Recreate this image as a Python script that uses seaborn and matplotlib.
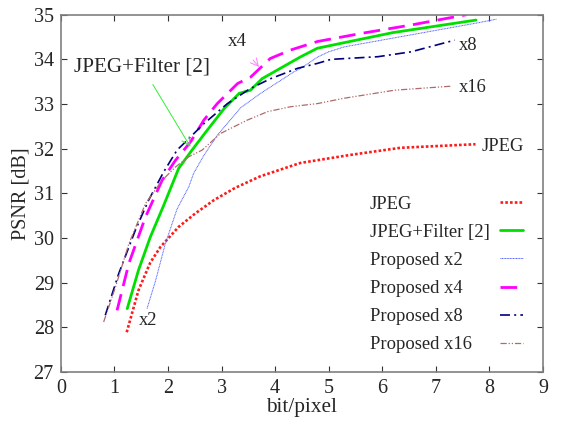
import numpy as np
import pandas as pd
import matplotlib
matplotlib.use("Agg")
import matplotlib.pyplot as plt
import seaborn as sns

# values (bit/pixel, PSNR dB)
jpeg_x = [1.23, 1.45, 1.67, 1.86, 2.20, 2.51, 2.86, 3.25, 3.72, 4.47, 5.40, 6.34, 7.74]
jpeg_y = [27.89, 28.83, 29.45, 29.80, 30.25, 30.55, 30.85, 31.12, 31.38, 31.68, 31.86, 32.02, 32.10]

filt_x = [1.24, 1.45, 1.67, 1.92, 2.20, 2.45, 2.73, 3.05, 3.33, 3.54, 3.76, 4.48, 4.79, 6.20, 7.75]
filt_y = [28.42, 29.28, 30.02, 30.73, 31.56, 31.97, 32.41, 32.90, 33.24, 33.31, 33.57, 34.06, 34.25, 34.60, 34.88]

x2_x = [1.61, 1.77, 1.95, 2.17, 2.39, 2.48, 2.67, 2.92, 3.36, 3.73, 4.35, 4.48, 4.79, 5.00, 5.29, 6.54, 7.79, 8.13]
x2_y = [28.42, 29.05, 29.87, 30.65, 31.15, 31.45, 31.85, 32.30, 32.92, 33.24, 33.72, 33.80, 34.05, 34.17, 34.28, 34.55, 34.82, 34.90]

x4_x = [1.05, 1.27, 1.58, 1.89, 2.14, 2.42, 2.67, 2.92, 3.30, 3.54, 3.91, 4.29, 4.79, 5.60, 6.54, 7.57]
x4_y = [28.38, 29.43, 30.47, 31.29, 31.74, 32.15, 32.64, 33.01, 33.46, 33.60, 34.02, 34.21, 34.40, 34.58, 34.77, 35.00]

x8_x = [0.83, 1.08, 1.39, 1.64, 1.92, 2.17, 2.30, 2.67, 3.11, 3.54, 3.92, 4.42, 4.79, 5.04, 5.92, 6.54, 7.35]
x8_y = [28.27, 29.20, 30.17, 30.85, 31.48, 31.97, 32.12, 32.56, 33.01, 33.35, 33.57, 33.80, 33.91, 34.00, 34.06, 34.17, 34.43]

x16_x = [0.80, 1.02, 1.27, 1.58, 1.89, 2.14, 2.39, 2.64, 2.98, 3.23, 3.48, 3.86, 4.29, 4.79, 5.29, 6.23, 7.29]
x16_y = [28.12, 28.90, 29.87, 30.77, 31.29, 31.59, 31.82, 31.97, 32.34, 32.49, 32.64, 32.83, 32.94, 33.01, 33.13, 33.31, 33.40]

sns.set_style("ticks")
plt.rcParams['font.family'] = ['Liberation Serif', 'DejaVu Serif']

fig, ax = plt.subplots(figsize=(5.63, 4.29), dpi=100)
fig.subplots_adjust(left=0.108, right=0.9645, top=0.9657, bottom=0.1329)

series = [
    ("JPEG", jpeg_x, jpeg_y, dict(color="#ff1a1a", lw=1.9, linestyle=(0, (1, 0.8)))),
    ("JPEG+Filter [2]", filt_x, filt_y, dict(color="#00e000", lw=2.0, linestyle="-")),
    ("Proposed x2", x2_x, x2_y, dict(color="#4b5cff", lw=0.7, linestyle=(0, (1, 0.6)))),
    ("Proposed x4", x4_x, x4_y, dict(color="#ff00ff", lw=2.0, linestyle=(0, (6, 3)))),
    ("Proposed x8", x8_x, x8_y, dict(color="#000080", lw=1.2, linestyle=(0, (6, 2.5, 1.2, 2.5)))),
    ("Proposed x16", x16_x, x16_y, dict(color="#b06a6a", lw=0.9, linestyle=(0, (5, 1.5, 1, 1.5, 1, 1.5)))),
]
for name, xs, ys, style in series:
    sns.lineplot(x=xs, y=ys, ax=ax, label=name, sort=False, estimator=None, **style)

ax.set_xlim(0, 9)
ax.set_ylim(27, 35)
ax.set_xticks(range(0, 10))
ax.set_yticks(range(27, 36))
ax.tick_params(direction="in", length=4, width=0.8, top=True, right=True,
               labelsize=14.5, pad=5, color="#333333")
for s in ax.spines.values():
    s.set_color("#808080")
    s.set_linewidth(1.2)
ax.set_xlabel("bit/pixel", fontsize=15.3, labelpad=0)
ax.set_ylabel("PSNR [dB]", fontsize=14.6, labelpad=2)

# curve labels
lab = 13.3
ax.text(7.42, 34.32, "x8", fontsize=lab, va="center")
ax.text(7.42, 33.36, "x16", fontsize=lab, va="center")
ax.text(7.85, 32.04, "JPEG", fontsize=lab, va="center")
ax.text(1.45, 28.15, "x2", fontsize=lab, va="center")
ax.annotate("x4", xy=(3.70, 33.83), xytext=(3.30, 34.39), fontsize=13.7,
            ha="center", va="center",
            arrowprops=dict(arrowstyle="->", color="#ff80ff", lw=0.7,
                            shrinkA=6, shrinkB=0))
ax.annotate("JPEG+Filter [2]", xy=(2.42, 32.04), xytext=(1.52, 33.83), fontsize=15.2,
            ha="center", va="center",
            arrowprops=dict(arrowstyle="->", color="#33ee33", lw=0.7,
                            shrinkA=4, shrinkB=0))

leg = ax.legend(loc="upper right", bbox_to_anchor=(0.9585, 0.494), frameon=False,
                markerfirst=False, fontsize=13.4, handlelength=1.24,
                handletextpad=0.54, labelspacing=0.6, borderaxespad=0, borderpad=0)

# left-align the legend texts while keeping the handles in one column
fig.canvas.draw()
r = fig.canvas.get_renderer()
col = leg._legend_handle_box.get_children()[0]
col.align = "left"
widths = [t.get_window_extent(r).width for t in leg.get_texts()]
for box, w in zip(col.get_children(), widths):
    box.sep += (max(widths) - w) * 72 / fig.dpi

fig.savefig("out.png", dpi=100)
